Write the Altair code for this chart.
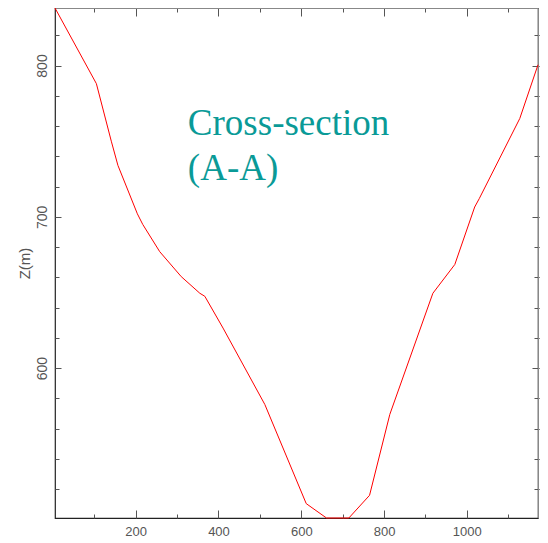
import altair as alt
import pandas as pd

# Cross-section profile (distance, elevation)
dist = [5, 105, 141, 157, 204, 217, 258, 310, 355, 367, 411, 512, 612, 661, 715,
        765, 814, 918, 971, 1019, 1030, 1128, 1172]
elev = [838, 788, 750, 734, 702, 695, 677, 660.5, 649.5, 647.5, 626.5, 576, 510.5, 501, 501,
        516, 569.5, 649.5, 668.5, 706.5, 712, 765, 800.5]

x_major = [200, 400, 600, 800, 1000]
x_minor = [100, 300, 500, 700, 900, 1100]
y_major = [600, 700, 800]
y_minor = [520, 540, 560, 580, 620, 640, 660, 680, 720, 740, 760, 780, 820]

label_text = ["Cross-section", "(A-A)"]
label_x = [326]
label_y = [754]

W, H = 483, 510
df = pd.DataFrame({"x": dist, "z": elev})
ann = pd.DataFrame({"x": label_x, "z": label_y, "t": ["\n".join(label_text)]})

xs = alt.Scale(domain=[min(dist), max(dist)], nice=False, zero=False)
ys = alt.Scale(domain=[min(elev), max(elev)], nice=False, zero=False)

tick_color = "#555555"

main = alt.Chart(df).mark_line(color="#ff0000", strokeWidth=1).encode(
    x=alt.X("x:Q", scale=xs, axis=alt.Axis(
        orient="bottom", values=x_major, format="d", title=None, tickSize=0, domain=False,
        grid=False, labelFont="Liberation Sans", labelFontSize=13, labelColor="#555555",
        labelPadding=7)),
    y=alt.Y("z:Q", scale=ys, axis=alt.Axis(
        orient="left", values=y_major, format="d", title="Z(m)", tickSize=0, domain=False,
        grid=False, labelAngle=270, labelAlign="center", labelBaseline="bottom",
        labelFont="Liberation Sans", labelFontSize=14, labelColor="#555555", labelPadding=6,
        titleFont="Liberation Sans", titleFontSize=15, titleFontWeight="normal",
        titleColor="#555555", titlePadding=3)),
)


def tick_layer(xvals, yvals, xorient, yorient, xsize, ysize):
    return alt.Chart(df).mark_line(opacity=0).encode(
        x=alt.X("x:Q", scale=xs, axis=alt.Axis(
            orient=xorient, offset=-H, values=xvals, title=None, labels=False,
            domain=False, grid=False, tickSize=xsize, tickColor=tick_color, tickWidth=1)),
        y=alt.Y("z:Q", scale=ys, axis=alt.Axis(
            orient=yorient, offset=-W, values=yvals, title=None, labels=False,
            domain=False, grid=False, tickSize=ysize, tickColor=tick_color, tickWidth=1)),
    )


l1 = tick_layer(x_major, y_major, "top", "right", 8, 6)
l2 = tick_layer(x_major, y_major, "bottom", "left", 8, 6)
l3 = tick_layer(x_minor, y_minor, "top", "right", 4, 4)
l4 = tick_layer(x_minor, y_minor, "bottom", "left", 4, 4)

text = alt.Chart(ann).mark_text(
    align="left", baseline="alphabetic", font="Liberation Serif", fontSize=37,
    lineHeight=45, color="#0a9a97", lineBreak="\n"
).encode(x=alt.X("x:Q", scale=xs), y=alt.Y("z:Q", scale=ys), text="t:N")

chart = alt.layer(main, l1, l2, l3, l4, text).resolve_axis(
    x="independent", y="independent"
).properties(
    width=W, height=H,
    autosize=alt.AutoSizeParams(type="none"),
    padding={"left": 47, "top": 0, "right": 2, "bottom": 25},
).configure_view(stroke="#222222", strokeWidth=1.2)

chart.save("out.html", embed_options={"renderer": "svg", "actions": False})
